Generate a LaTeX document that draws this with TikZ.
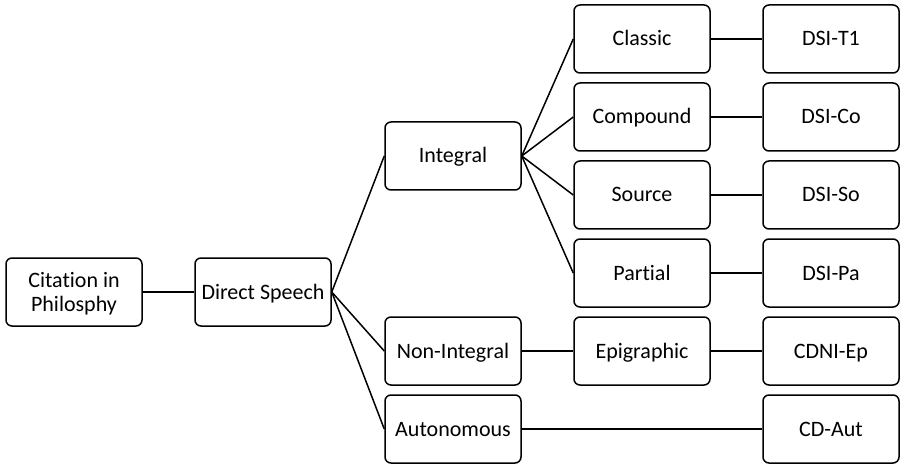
\documentclass[tikz,border=0pt]{standalone}
\usepackage{fontspec}
\setmainfont{Carlito}[Ligatures=NoCommon]
\usepackage{tikz}
\usetikzlibrary{calc}
\newcommand\branch[2]{% from, to
  \draw (#1.east) -- (#2.west);
}

\begin{document}
\begin{tikzpicture}[x=1pt,y=-1pt]
		\tikzstyle{every path}=[line width=1.5pt]
		\tikzstyle{catbox}=[draw,rounded corners=6pt,
								  minimum width=136pt,
								  minimum height=68pt,
								  inner sep=2pt,
								  align=center,
								  text height=16pt,
								  text depth=2pt,
								  font=\fontsize{22}{24}\selectfont]

\useasboundingbox (0,0) rectangle (902,465);

\def\colshift{189pt}
\def\rowshift{78pt}

\node[catbox,text height=40pt] at (74,292) (citation) {Citation in\\Philosphy};
\node[catbox,xshift=\colshift] at (citation) (direct) {Direct Speech};

\node[catbox] at (642,39) (classic) {Classic};
\node[catbox,yshift=-\rowshift] at (classic) (compound) {Compound};
\node[catbox,yshift=-\rowshift] at (compound) (source) {Source};
\node[catbox,yshift=-\rowshift] at (source) (partial) {Partial};
\node[catbox,yshift=-\rowshift] at (partial) (epigraphic) {Epigraphic};

\node[catbox,xshift=\colshift] at (classic) (dsit1) {DSI-T1};
\node[catbox,xshift=\colshift] at (compound) (dsico) {DSI-Co};
\node[catbox,xshift=\colshift] at (source) (dsiso) {DSI-So};
\node[catbox,xshift=\colshift] at (partial) (dsipa) {DSI-Pa};
\node[catbox,xshift=\colshift] at (epigraphic) (cdniep) {CDNI-Ep};
\node[catbox,yshift=-\rowshift] at (cdniep) (cdaut) {CD-Aut};

\node[catbox,xshift=-\colshift] at ($(classic)!0.5!(partial)$) (integral) {Integral};
\node[catbox,xshift=-\colshift] at (epigraphic) (nonintegral) {Non-Integral};
\node[catbox,yshift=-\rowshift] at (nonintegral) (autonomous) {Autonomous};

\branch{citation}{direct}
\foreach \j in {integral,nonintegral,autonomous}
{
  \branch{direct}{\j}
}
\foreach \j in {classic,compound,source,partial}
{
  \branch{integral}{\j}
}
\foreach \i/\j in {classic/dsit1,compound/dsico,source/dsiso,partial/dsipa,nonintegral/epigraphic,epigraphic/cdniep,autonomous/cdaut}
{
  \branch{\i}{\j}
}

\end{tikzpicture}
\end{document}
